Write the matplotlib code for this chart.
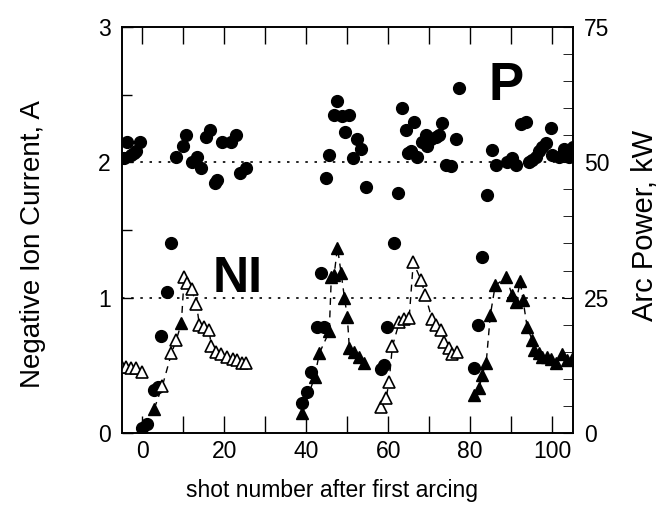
import matplotlib
matplotlib.use("Agg")
import matplotlib.pyplot as plt
import numpy as np
from matplotlib.ticker import MultipleLocator

plt.rcParams['font.family'] = ['Liberation Sans', 'DejaVu Sans']

# arc power points (plotted in left-axis units, 1 A = 25 kW)
p_x = [-4.4, -3.7, -2.7, -2.0, -1.5, -0.7, 8.3, 9.8, 10.7, 12.0, 13.4, 14.4, 15.6, 16.6,
       17.6, 18.3, 19.5, 21.7, 22.9, 23.7, 25.4,
       44.9, 45.6, 46.8, 47.6, 48.8, 49.5, 50.5, 51.5, 52.4, 53.4, 54.6,
       62.4, 63.4, 64.4, 64.9, 65.6, 66.3, 67.1, 68.3, 69.3, 69.5, 70.5, 71.7, 72.4,
       73.2, 74.1, 75.4, 76.6, 77.3,
       84.1, 85.4, 86.3, 89.0, 90.2, 91.2, 92.4, 93.7, 94.4, 95.1, 96.1, 96.8, 97.6,
       98.5, 99.8, 100.0, 101.7, 102.9, 104.1, 105.0]
p_y = [2.03, 2.15, 2.05, 2.07, 2.08, 2.15, 2.04, 2.12, 2.2, 2.0, 2.04, 1.96, 2.19, 2.24,
       1.85, 1.87, 2.15, 2.15, 2.2, 1.92, 1.96,
       1.88, 2.05, 2.35, 2.45, 2.34, 2.22, 2.35, 2.03, 2.17, 2.1, 1.82,
       1.77, 2.4, 2.24, 2.07, 2.08, 2.3, 2.04, 2.15, 2.2, 2.12, 2.17, 2.19, 2.2,
       2.29, 1.98, 1.97, 2.17, 2.55,
       1.76, 2.09, 1.98, 2.0, 2.03, 1.98, 2.28, 2.3, 2.0, 2.02, 2.04, 2.08, 2.11,
       2.14, 2.25, 2.05, 2.04, 2.1, 2.04, 2.11]

# low circles
c_x = [0.0, 1.0, 2.9, 3.7, 4.6, 6.1, 7.1,
       39.0, 40.2, 41.2, 42.7, 43.7, 44.4,
       58.3, 59.0, 59.8, 61.5,
       81.0, 82.0, 82.9]
c_y = [0.04, 0.07, 0.32, 0.34, 0.72, 1.04, 1.40,
       0.22, 0.30, 0.45, 0.78, 1.18, 0.78,
       0.47, 0.50, 0.78, 1.40,
       0.48, 0.80, 1.30]

# negative ion current, open triangles
o_x = [-5.1, -3.9, -2.7, -1.5, -0.2, 4.9, 7.1, 8.3, 10.2, 11.0, 12.0, 13.2, 13.9, 15.1,
       16.3, 16.8, 18.0, 19.3, 20.7, 22.0, 23.2, 24.4, 25.4,
       58.3, 59.5, 60.2, 61.0, 62.7, 63.9, 65.1, 66.1, 68.0, 69.0, 70.7, 71.7, 72.9,
       73.7, 74.9, 75.6, 76.8]
o_y = [0.49, 0.49, 0.48, 0.48, 0.45, 0.35, 0.59, 0.69, 1.15, 1.11, 1.06, 0.95, 0.80, 0.78,
       0.76, 0.64, 0.60, 0.58, 0.56, 0.55, 0.54, 0.52, 0.52,
       0.19, 0.26, 0.38, 0.64, 0.82, 0.84, 0.85, 1.26, 1.13, 1.02, 0.84, 0.80, 0.76,
       0.67, 0.63, 0.58, 0.60]

# negative ion current, filled triangles
f_x = [2.9, 9.5,
       39.0, 42.0, 43.2, 45.6, 46.1, 46.8, 47.6, 48.5, 49.3, 50.0, 50.5, 51.7, 52.9, 54.1,
       81.0, 82.2, 82.9, 83.9, 84.9, 86.1, 88.8, 90.2, 91.2, 92.2, 92.9, 93.9, 95.1,
       95.6, 96.8, 97.6, 98.8, 99.8, 101.0, 102.4, 103.7, 104.9]
f_y = [0.18, 0.81,
       0.15, 0.41, 0.59, 0.75, 1.15, 1.17, 1.37, 1.18, 1.00, 0.86, 0.63, 0.60, 0.56, 0.52,
       0.28, 0.33, 0.43, 0.52, 0.87, 1.09, 1.15, 1.02, 0.97, 1.12, 0.98, 0.78, 0.69,
       0.61, 0.59, 0.56, 0.56, 0.55, 0.52, 0.58, 0.54, 0.55]

fig = plt.figure(figsize=(6.59, 5.07), dpi=100)
ax = fig.add_axes([0.185, 0.146, 0.684, 0.801])

# dashed trend line through the triangles, broken between shot groups
tx = np.array(o_x + f_x)
ty = np.array(o_y + f_y)
order = np.argsort(tx)
tx, ty = tx[order], ty[order]
breaks = np.where(np.diff(tx) > 3)[0] + 1
for sx, sy in zip(np.split(tx, breaks), np.split(ty, breaks)):
    if sx[0] < 0:
        continue
    ax.plot(sx, sy, color='black', lw=1.0, ls=(0, (5, 4)), zorder=1)

ax.axhline(2, color='black', lw=1.2, ls=(0, (1.5, 4)), zorder=0)
ax.axhline(1, color='black', lw=1.2, ls=(0, (1.5, 4)), zorder=0)

ax.plot(p_x, p_y, 'o', color='black', ms=8.5, ls='none', zorder=3)
ax.plot(c_x, c_y, 'o', color='black', ms=8.5, ls='none', zorder=3)
ax.plot(o_x, o_y, '^', mfc='white', mec='black', mew=1.2, ms=8, ls='none', zorder=3)
ax.plot(f_x, f_y, '^', color='black', ms=8, ls='none', zorder=3)

ax.text(88.8, 2.56, 'P', fontsize=38, fontweight='heavy', ha='center', va='center')
ax.text(23.2, 1.14, 'NI', fontsize=36, fontweight='heavy', ha='center', va='center')

ax.set_xlim(-5, 105)
ax.set_ylim(0, 3)
ax.xaxis.set_major_locator(MultipleLocator(20))
ax.xaxis.set_minor_locator(MultipleLocator(10))
ax.yaxis.set_major_locator(MultipleLocator(1))
ax.yaxis.set_minor_locator(MultipleLocator(0.5))
ax.tick_params(which='both', direction='in', top=True, labelsize=16.5, width=1)
ax.tick_params(which='both', axis='x', length=12, pad=5)
ax.tick_params(which='major', axis='y', length=8)
ax.tick_params(which='minor', axis='y', length=7)
ax.tick_params(axis='y', right=False, pad=8)

ax2 = ax.twinx()
ax2.set_ylim(0, 75)
ax2.yaxis.set_major_locator(MultipleLocator(25))
ax2.yaxis.set_minor_locator(MultipleLocator(5))
ax2.tick_params(which='both', direction='in', labelsize=16.5, length=7, pad=8)

for a in (ax, ax2):
    for s in a.spines.values():
        s.set_linewidth(1.2)

fig.text(332 / 659, 1 - 491 / 507, 'shot number after first arcing', fontsize=16.5,
         ha='center', va='center')
fig.text(33 / 659, 1 - 244 / 507, 'Negative Ion Current, A', fontsize=20,
         rotation=90, ha='center', va='center')
fig.text(645 / 659, 1 - 225 / 507, 'Arc Power, kW', fontsize=21,
         rotation=90, ha='center', va='center')

fig.savefig('out.png', dpi=100)
